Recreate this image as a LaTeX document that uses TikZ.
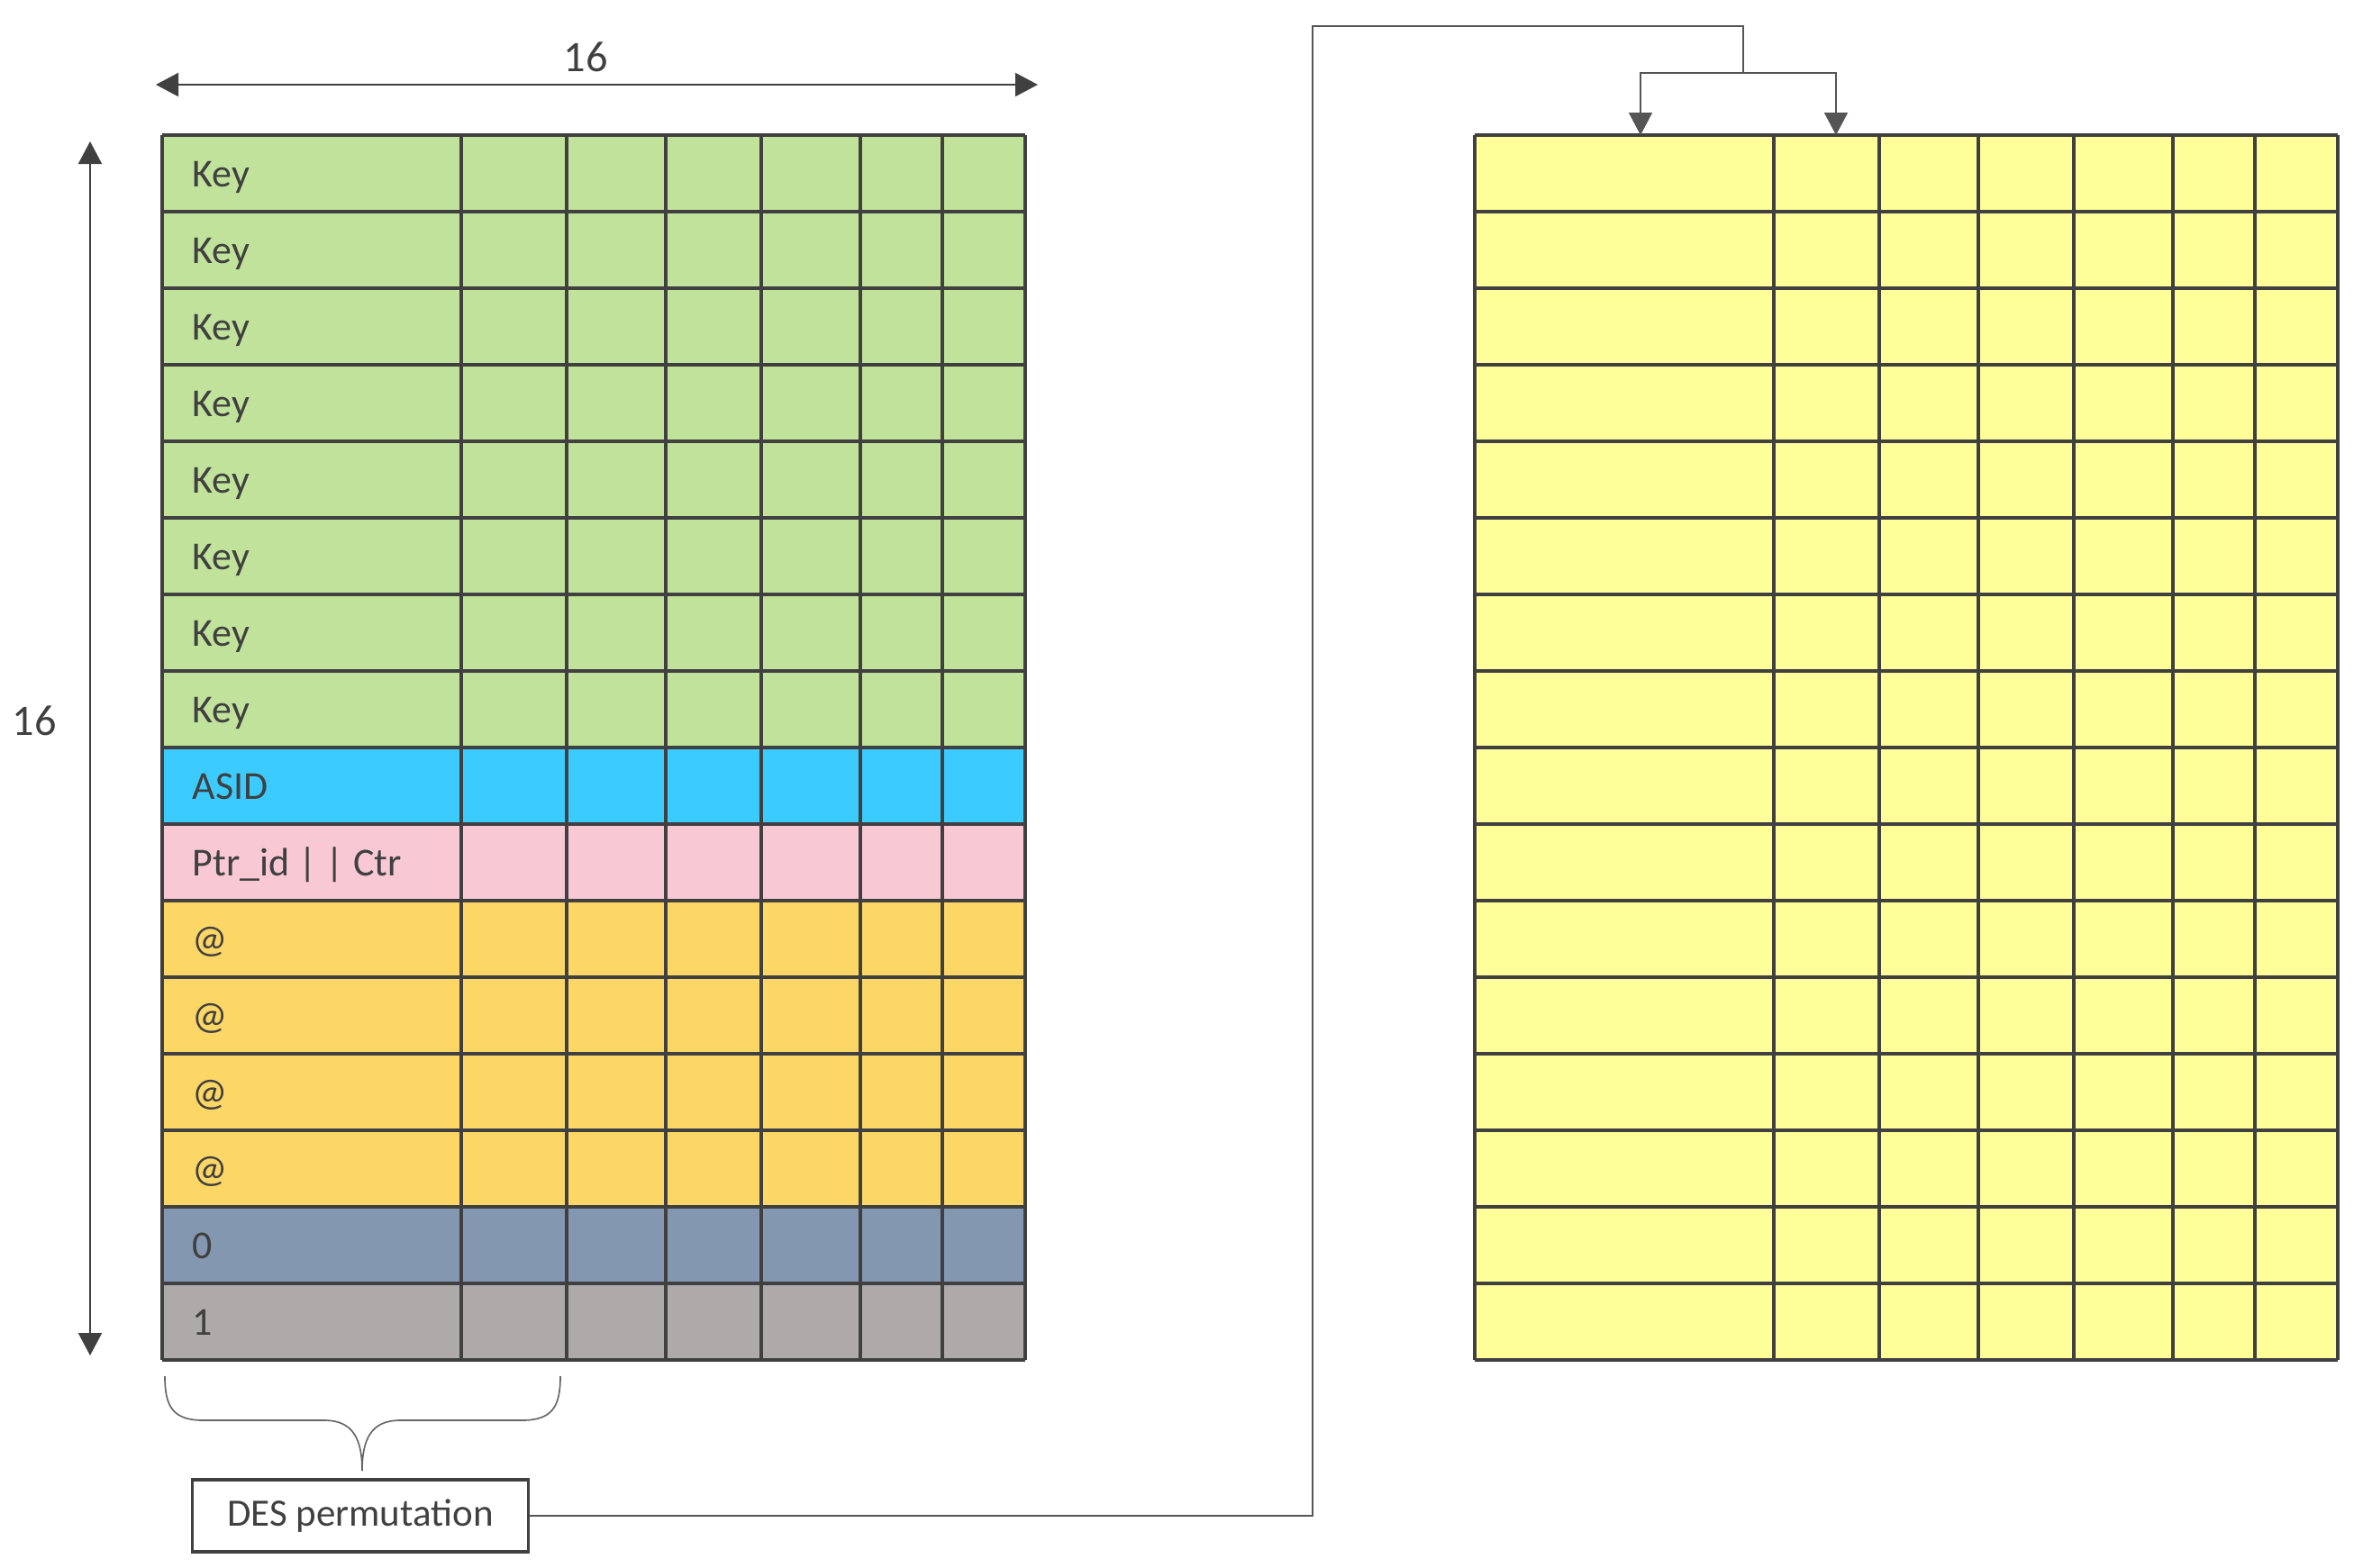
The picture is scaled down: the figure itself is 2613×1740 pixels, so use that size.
\documentclass[tikz,border=0pt]{standalone}
\usepackage{fontspec}
\setmainfont{Carlito}
\usetikzlibrary{arrows.meta}
\definecolor{ink}{HTML}{404040}
\definecolor{cgreen}{HTML}{C0E29A}
\definecolor{cblue}{HTML}{3CCBFF}
\definecolor{cpink}{HTML}{F9C8D5}
\definecolor{corange}{HTML}{FDD765}
\definecolor{cslate}{HTML}{8497B0}
\definecolor{cgray}{HTML}{AEAAAA}
\definecolor{cyellow}{HTML}{FFFF99}
\definecolor{connc}{HTML}{555555}
\begin{document}
\begin{tikzpicture}[x=0.3pt,y=-0.3pt,
  gridline/.style={draw=ink, line width=1pt},
  celltext/.style={anchor=base west, inner sep=0pt, text=ink, font=\fontsize{13.2}{15}\selectfont},
  dimlabel/.style={inner sep=0pt, text=ink, font=\fontsize{14.5}{16}\selectfont},
  dimarrow/.style={draw=ink, line width=0.65pt, {Triangle[length=7.5pt,width=7.8pt]}-{Triangle[length=7.5pt,width=7.8pt]}},
  conn/.style={draw=connc, line width=0.55pt},
  connarrow/.style={conn, -{Triangle[length=7.5pt,width=7.8pt]}},
  desbox/.style={draw=ink, line width=1pt, fill=white, minimum width=112pt, minimum height=24pt, inner sep=0pt, text=ink, font=\fontsize{12.9}{14}\selectfont},
  bracestyle/.style={draw=ink!80, line width=0.5pt}
]
\useasboundingbox (0,0) rectangle (2613,1740);

% ---- left grid fills
\foreach \i/\c in {0/cgreen,1/cgreen,2/cgreen,3/cgreen,4/cgreen,5/cgreen,6/cgreen,7/cgreen,8/cblue,9/cpink,10/corange,11/corange,12/corange,13/corange,14/cslate,15/cgray}
  \fill[\c] (180,{150+85*\i}) rectangle (1138,{235+85*\i});
% ---- right grid fill
\fill[cyellow] (1637,150) rectangle (2595,1510);

% ---- grid lines
\foreach \i in {0,...,16}{
  \draw[gridline] (180,{150+85*\i}) -- (1138,{150+85*\i});
  \draw[gridline] (1637,{150+85*\i}) -- (2595,{150+85*\i});
}
\foreach \x in {180,512,629,739,845,955,1046,1138}{
  \draw[gridline] (\x,150) -- (\x,1510);
  \draw[gridline] ({\x+1457},150) -- ({\x+1457},1510);
}

% ---- row labels
\foreach \i/\t in {0/Key,1/Key,2/Key,3/Key,4/Key,5/Key,6/Key,7/Key,8/ASID,9/{Ptr\_id | | Ctr},10/@,11/@,12/@,13/@,14/0,15/1}
  \node[celltext] (lbl\i) at (213,{207+85*\i}) {\t};

% ---- dimension arrows
\coordinate (hL) at (173,94);
\coordinate (hR) at (1152,94);
\draw[dimarrow] (hL) -- (hR);
\node[dimlabel] (wlabel) at (650,63) {16};
\coordinate (vT) at (100,157);
\coordinate (vB) at (100,1505);
\draw[dimarrow] (vT) -- (vB);
\node[dimlabel] (hlabel) at (38,800) {16};

% ---- brace
\draw[bracestyle] (183,1528) .. controls (183,1562) and (192,1577) .. (226,1577)
  -- (360,1577) .. controls (392,1577) and (402,1598) .. (402,1633);
\draw[bracestyle] (622,1528) .. controls (622,1562) and (613,1577) .. (579,1577)
  -- (444,1577) .. controls (412,1577) and (402,1598) .. (402,1633);

% ---- DES box and connector
\node[desbox] (des) at (400,1683) {DES permutation};
\coordinate (bendA) at (1457,29);
\coordinate (bendB) at (1935,29);
\coordinate (split) at (1935,81);
\coordinate (tgtA) at (1821,150);
\coordinate (tgtB) at (2038,150);
\draw[conn] (des.east) -| (bendA) -- (bendB) -- (split);
\draw[connarrow] (split) -| (tgtA);
\draw[connarrow] (split) -| (tgtB);
\end{tikzpicture}
\end{document}
